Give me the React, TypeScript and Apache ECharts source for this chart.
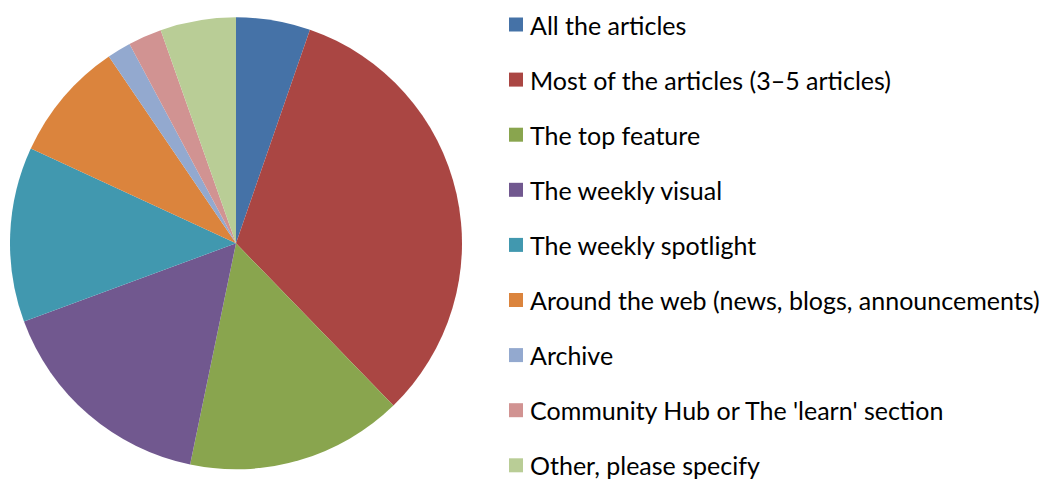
import React, { useEffect, useRef } from "react";
import * as echarts from "echarts";

const categories = [
  "All the articles",
  "Most of the articles (3\u20135 articles)",
  "The top feature",
  "The weekly visual",
  "The weekly spotlight",
  "Around the web (news, blogs, announcements)",
  "Archive",
  "Community Hub or The 'learn' section",
  "Other, please specify",
];
const values = [5.3, 32.4, 15.5, 16.1, 12.5, 8.6, 1.7, 2.4, 5.4];
const colors = [
  "#4572A7",
  "#AA4643",
  "#89A54E",
  "#71588F",
  "#4198AF",
  "#DB843D",
  "#93A9CF",
  "#D19392",
  "#B9CD96",
];

export default function App() {
  const ref = useRef<HTMLDivElement>(null);
  useEffect(() => {
    if (!ref.current) return;
    const chart = echarts.init(ref.current, undefined, { renderer: "svg" });
    chart.setOption({
      animation: false,
      color: colors,
      legend: {
        orient: "vertical",
        left: 504,
        top: 7,
        height: 1000,
        padding: 5,
        itemWidth: 14,
        itemHeight: 14,
        itemGap: 30.1,
        icon: "rect",
        textStyle: {
          fontFamily: "Lato",
          fontSize: 25,
          color: "#000",
          padding: [0, 0, 0, 2],
        },
        data: categories,
      },
      series: [
        {
          type: "pie",
          center: [236, 243.3],
          radius: 226,
          startAngle: 90,
          clockwise: true,
          label: { show: false },
          labelLine: { show: false },
          emphasis: { disabled: true },
          itemStyle: { borderWidth: 0 },
          data: categories.map((name, i) => ({ name, value: values[i] })),
        },
      ],
    });
    return () => chart.dispose();
  }, []);
  return (
    <div
      ref={ref}
      style={{ position: "fixed", left: 0, top: 0, width: 1044, height: 480, background: "#fff" }}
    />
  );
}
